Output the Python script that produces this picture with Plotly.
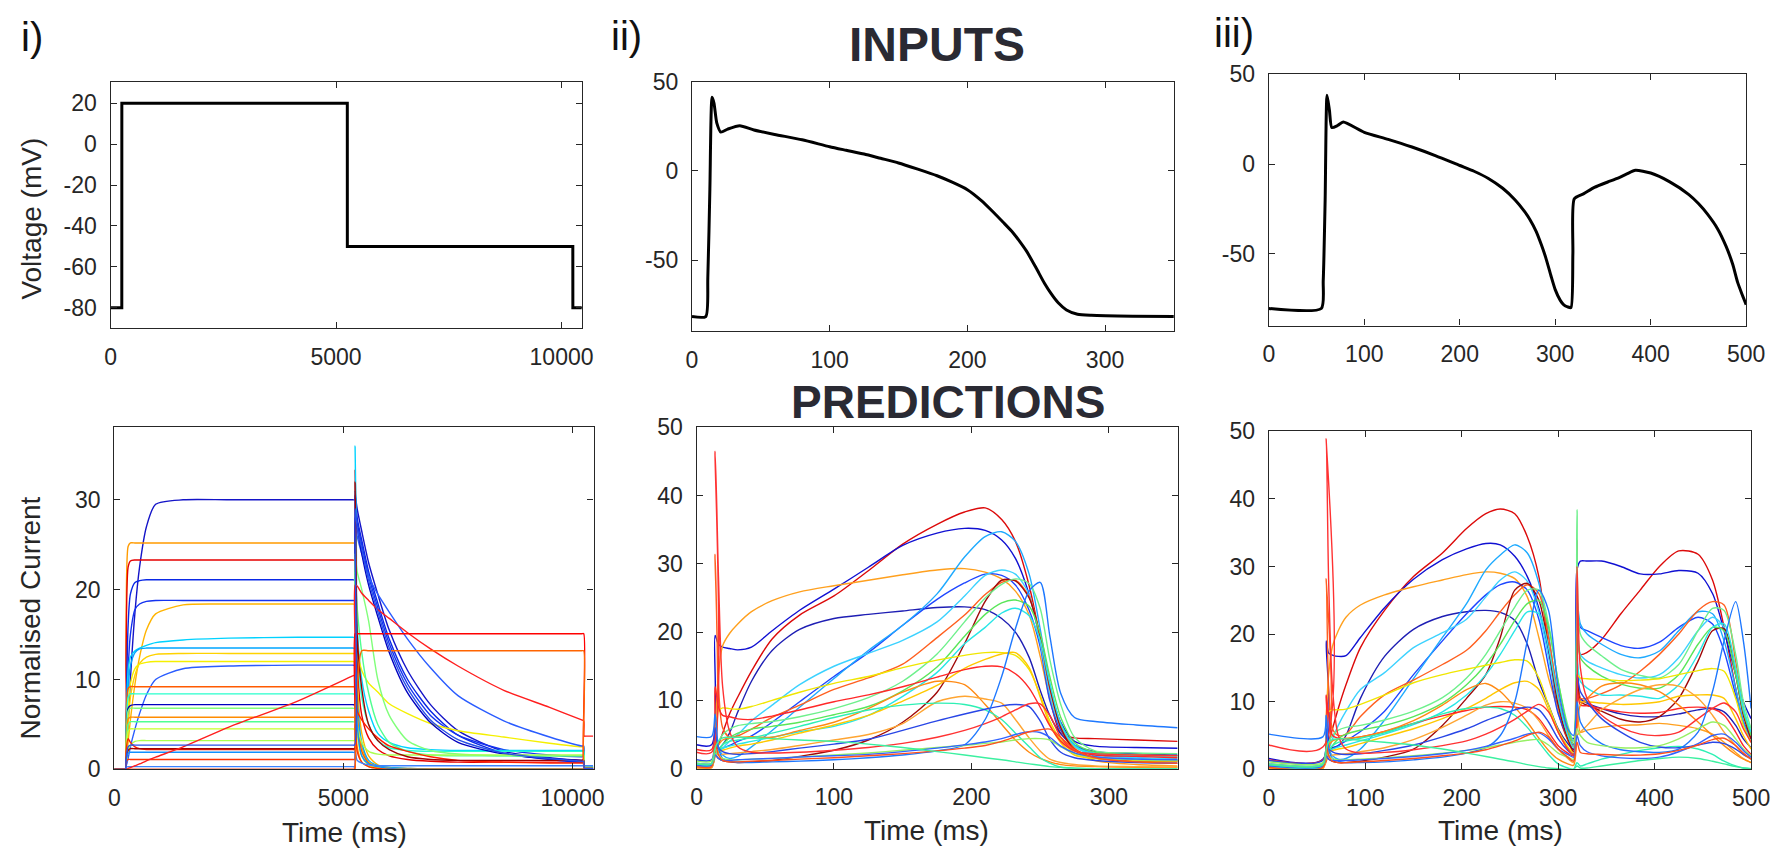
import plotly.graph_objects as go

W, H = 1790, 857

# ---------------- INPUT PROTOCOLS (voltage, mV) ----------------
V1_T = [0, 250, 251, 5250, 5251, 10250, 10251, 10450]
V1 = [-80, -80, 20, 20, -50, -50, -80, -80]

V2_T = [0, 10, 11.5, 13, 14.6, 16, 18, 21, 26, 34.7, 45, 60, 80, 100, 112, 125, 137, 150, 164,
        178, 189, 200, 210, 219.5, 226, 233, 238, 243, 250, 256, 261, 266, 272, 280, 290, 320, 350]
V2 = [-81.7, -81.7, -60, -10, 41.4, 38, 27, 21.8, 23.5, 25.4, 23, 20.5, 17.5, 13.6, 11.6, 9.5,
      7.1, 4.5, 1.0, -2.7, -6.3, -10.5, -16.5, -23.6, -28.8, -34.5, -39.5, -45, -54.5, -63,
      -69, -74, -78, -80.4, -81, -81.5, -81.7]

V3_T = [0, 55, 57, 59, 61, 63.5, 66, 72, 78, 100, 125, 150, 175, 200, 215, 230, 245, 258, 268,
        273.6, 280, 285.5, 290, 295.4, 300, 305.3, 309, 313, 316.5, 318.5, 320, 330, 341, 355,
        365, 375, 384, 400, 420, 440, 450, 459.5, 470, 479, 486, 491, 496, 500]
V3 = [-80.5, -80.5, -65, -20, 38.4, 30, 20.4, 21.5, 23.4, 17.7, 13.8, 9.5, 4.6, -0.8, -4, -8,
      -13.5, -20, -26.5, -31, -37.5, -45, -52, -62, -70, -76, -78.5, -79.6, -80, -50, -19.3,
      -16.5, -13, -10, -8, -5.5, -3.5, -5, -9.9, -17, -22, -27.9, -36, -45.9, -56, -65.8, -73, -78.4]

# ---------------- PREDICTIONS panel i (normalised current) ----------------
P1_T = [0, 200, 245, 255, 300, 350, 450, 550, 700, 900, 1500, 2500, 4000, 5200, 5245, 5255,
        5300, 5400, 5550, 5750, 6000, 6400, 6900, 7500, 8500, 9500, 10200, 10245, 10255, 10300, 10450]
P1_COLORS = ["#1414c8", "#ff9b00", "#e60000", "#0a28e6", "#1432f0", "#ffb400", "#00d2ff",
             "#00a5ff", "#ffd200", "#f5f000", "#2a5cff", "#ff5a00", "#28ffcd", "#0000c0",
             "#80ff7a", "#ff8c00", "#50ff90", "#c8ff28", "#aaff50", "#ff1e00", "#a00000",
             "#1090ff", "#ff3200", "#3c82ff", "#ff1e1e", "#ff0000", "#ff6400", "#2850e6"]
P1_SERIES = [
    [0, 0, 0, 0.5, 5, 10, 17.5, 22.5, 27, 29.5, 30, 30, 30, 30, 30,
     30.5, 29, 26.5, 23, 19.5, 15.5, 11, 7.2, 4.3, 2.0, 1.3, 1.0, 1.0, 0.2, 0.2, 0.1],
    [0, 0, 0, 14, 24.8, 25.2, 25.2, 25.2, 25.2, 25.2, 25.2, 25.2, 25.2, 25.2, 25.2,
     27, 9, 2.5, 0.8, 0.3, 0.1, 0, 0, 0, 0, 0, 0, 0, 0, 0, 0],
    [0, 0, 0, 12, 22.5, 23.2, 23.3, 23.3, 23.3, 23.3, 23.3, 23.3, 23.3, 23.3, 23.3,
     33.3, 12, 6, 3.5, 2.2, 1.5, 1.1, 0.9, 0.8, 0.8, 0.8, 0.8, 0.8, 0.1, 0.1, 0.1],
    [0, 0, 0, 5, 16, 19.5, 20.8, 21.0, 21.1, 21.1, 21.1, 21.1, 21.1, 21.1, 21.1,
     31, 28, 25.5, 22, 18.5, 14.5, 10, 6.5, 3.8, 1.8, 1.1, 0.8, 0.8, 0.1, 0.1, 0.1],
    [0, 0, 0, 3, 11, 15, 17.8, 18.4, 18.7, 18.8, 18.8, 18.8, 18.8, 18.8, 18.8,
     30, 27.5, 25, 21.5, 18, 14, 9.5, 6, 3.8, 2.2, 1.6, 1.4, 1.4, 0.2, 0.2, 0.1],
    [0, 0, 0, 0.5, 3, 5.5, 9.5, 12.5, 15.5, 17.3, 18.3, 18.4, 18.4, 18.4, 18.4,
     20, 10, 4, 1.5, 0.5, 0.2, 0.1, 0, 0, 0, 0, 0, 0, 0, 0, 0],
    [0, 0, 0, 4, 11, 12.5, 13.2, 13.5, 13.8, 14.1, 14.4, 14.6, 14.7, 14.7, 14.7,
     36, 16, 10, 6.5, 4, 3, 2.4, 2.2, 2.1, 2.1, 2.1, 2.1, 2.1, 0.3, 0.3, 0.2],
    [0, 0, 0, 3, 9, 11.5, 13, 13.4, 13.5, 13.5, 13.5, 13.5, 13.5, 13.5, 13.5,
     25, 8, 3, 1, 0.4, 0.2, 0.1, 0, 0, 0, 0, 0, 0, 0, 0, 0],
    [0, 0, 0, 1, 5, 8, 10.5, 11.8, 12.5, 12.8, 12.9, 12.9, 12.9, 12.9, 12.9,
     22, 6, 2, 0.8, 0.3, 0.1, 0, 0, 0, 0, 0, 0, 0, 0, 0, 0],
    [0, 0, 0, 2, 7, 9.5, 11.2, 11.7, 11.9, 12, 12, 12, 12, 12, 12,
     25, 14, 11, 9.6, 8.6, 7.3, 6.2, 5.1, 4.3, 3.6, 2.9, 2.5, 2.5, 0.3, 0.3, 0.2],
    [0, 0, 0, 0.3, 1.2, 2.5, 4.5, 6.2, 8.3, 10, 11.2, 11.5, 11.6, 11.6, 11.6,
     28, 26, 24, 21.5, 19.5, 17.5, 14.5, 11.3, 8.2, 5.4, 3.6, 2.6, 2.6, 0.3, 0.3, 0.3],
    [0, 0, 0, 6, 9, 9.2, 9.2, 9.2, 9.2, 9.2, 9.2, 9.2, 9.2, 9.2, 9.2,
     15, 6, 2, 0.7, 0.3, 0.1, 0, 0, 0, 0, 0, 0, 0, 0, 0, 0],
    [0, 0, 0, 4, 8, 8.4, 8.4, 8.4, 8.4, 8.4, 8.4, 8.4, 8.4, 8.4, 8.4,
     20, 14, 8, 5, 3.2, 2.4, 2.1, 2.0, 2.0, 2.0, 2.0, 2.0, 2.0, 0.3, 0.3, 0.2],
    [0, 0, 0, 3, 6.8, 7.1, 7.2, 7.2, 7.2, 7.2, 7.2, 7.2, 7.2, 7.2, 7.2,
     28, 27, 24, 20.5, 17, 13, 8.5, 5.2, 3.0, 1.7, 1.2, 1.0, 1.0, 0.2, 0.2, 0.1],
    [0, 0, 0, 3, 6.5, 6.8, 6.8, 6.8, 6.8, 6.8, 6.8, 6.8, 6.8, 6.8, 6.8,
     24, 22, 20, 16.5, 10, 6, 3.2, 2.1, 1.7, 1.5, 1.5, 1.5, 1.5, 0.3, 0.3, 0.2],
    [0, 0, 0, 3, 5.6, 5.8, 5.8, 5.8, 5.8, 5.8, 5.8, 5.8, 5.8, 5.8, 5.8,
     6, 2.5, 0.8, 0.3, 0.1, 0, 0, 0, 0, 0, 0, 0, 0, 0, 0, 0],
    [0, 0, 0, 2, 5, 5.3, 5.3, 5.3, 5.3, 5.3, 5.3, 5.3, 5.3, 5.3, 5.3,
     22, 18, 13, 8.5, 5, 3, 2, 1.6, 1.5, 1.5, 1.5, 1.5, 1.5, 0.2, 0.2, 0.2],
    [0, 0, 0, 2, 4.2, 4.5, 4.5, 4.5, 4.5, 4.5, 4.5, 4.5, 4.5, 4.5, 4.5,
     10, 4, 1.5, 0.5, 0.2, 0.1, 0, 0, 0, 0, 0, 0, 0, 0, 0, 0],
    [0, 0, 0, 0.5, 2, 2.7, 3.1, 3.2, 3.2, 3.2, 3.2, 3.2, 3.2, 3.2, 3.2,
     8, 5, 3, 2, 1.7, 1.6, 1.6, 1.6, 1.6, 1.6, 1.6, 1.6, 1.6, 0.2, 0.2, 0.2],
    [0, 0, 0, 2, 3.4, 3.0, 2.5, 2.3, 2.2, 2.2, 2.2, 2.2, 2.2, 2.2, 2.2,
     12, 6.5, 5.5, 4.5, 3.5, 2.6, 2.0, 1.4, 1.0, 0.8, 0.7, 0.7, 0.7, 0.1, 0.1, 0.1],
    [0, 0, 0, 1, 2.1, 2.3, 2.3, 2.3, 2.3, 2.3, 2.3, 2.3, 2.3, 2.3, 2.3,
     32, 15, 9, 5, 3.2, 2.2, 1.4, 1.1, 1.0, 1.0, 1.0, 1.0, 1.0, 0.1, 0.1, 0.1],
    [0, 0, 0, 1, 1.8, 1.9, 1.9, 1.9, 1.9, 1.9, 1.9, 1.9, 1.9, 1.9, 1.9,
     20, 5, 1.5, 0.6, 0.3, 0.1, 0, 0, 0, 0, 0, 0, 0, 0, 0, 0],
    [0, 0, 0, 0.8, 1.1, 1.1, 1.1, 1.1, 1.1, 1.1, 1.1, 1.1, 1.1, 1.1, 1.1,
     5, 2, 0.8, 0.3, 0.1, 0, 0, 0, 0, 0, 0, 0, 0, 0, 0, 0],
    [0, 0, 0, 0.2, 0.3, 0.3, 0.3, 0.3, 0.3, 0.3, 0.3, 0.3, 0.3, 0.3, 0.3,
     2, 1, 0.7, 0.5, 0.4, 0.4, 0.4, 0.4, 0.4, 0.4, 0.4, 0.4, 0.4, 0.4, 0.4, 0.4],
    [0, 0, 0, 0, 0.1, 0.2, 0.4, 0.6, 0.95, 1.35, 2.5, 4.7, 7.6, 10.4, 10.5,
     20.5, 20.4, 19.6, 18.8, 17.8, 16.8, 15.2, 13.4, 11.5, 8.8, 6.9, 5.5, 5.4, 3.7, 3.7, 3.7],
    [0, 0, 0, 0, 0, 0, 0, 0, 0, 0, 0, 0, 0, 0, 0,
     15.1, 15.1, 15.1, 15.1, 15.1, 15.1, 15.1, 15.1, 15.1, 15.1, 15.1, 15.1, 15.1, 0, 0, 0],
    [0, 0, 0, 0, 0, 0, 0, 0, 0, 0, 0, 0, 0, 0, 0,
     6, 9, 13.2, 13.2, 13.2, 13.2, 13.2, 13.2, 13.2, 13.2, 13.2, 13.2, 13.2, 0, 0, 0],
    [0, 0, 0, 1, 2.5, 2.7, 2.7, 2.7, 2.7, 2.7, 2.7, 2.7, 2.7, 2.7, 2.7,
     29, 27, 24.5, 21, 17.5, 13.5, 9, 5.5, 3.3, 1.8, 1.2, 0.9, 0.9, 0.1, 0.1, 0.1],
]

# ---------------- PREDICTIONS panels ii and iii (same 25 models) ----------------
MODEL_COLORS = ["#dc0a0a", "#1010d2", "#ffa01e", "#1e1eb4", "#1e46ff", "#1eaaff", "#3cd2ff",
                "#ff5f1f", "#a00a0a", "#6ef08c", "#5ae65a", "#28e6e6", "#f0e600", "#ffc800",
                "#ff2828", "#ff8a14", "#ffa532", "#2ef0b4", "#2846e6", "#ff3232", "#1e78ff",
                "#96f064", "#3264ff", "#ff501e", "#3cf0a0"]

P2_T = [0, 11, 13.5, 16, 19, 24, 30, 40, 55, 75, 100, 125, 150, 175, 195, 210, 222, 232, 242,
        250, 257, 265, 275, 290, 320, 350]
P2_SERIES = [
    [0.4, 0.4, 2, 3.5, 5.2, 8.0, 10.5, 14.3, 19.0, 22.5, 25.3, 29.0, 32.9, 35.8, 37.6, 38.2, 36.5, 33.3, 26.8, 19.0, 10.5, 5.2, 4.5, 4.4, 4.2, 4.0],
    [3.5, 3.5, 19.5, 18.2, 17.8, 17.6, 17.4, 17.8, 20.2, 23.2, 26.3, 29.5, 32.7, 34.5, 35.2, 34.9, 33.5, 30.8, 25.5, 18.8, 11.8, 6.8, 4.0, 3.3, 3.1, 3.0],
    [0.3, 0.3, 6, 14, 18, 19.8, 21.2, 23.0, 24.6, 25.9, 26.8, 27.6, 28.4, 29.1, 29.3, 28.8, 27.8, 26.0, 22.5, 16.5, 10.2, 5.6, 2.7, 1.2, 0.6, 0.4],
    [0.5, 0.5, 4, 3, 3.5, 5.2, 8.3, 12.8, 17.3, 20.4, 22.0, 22.6, 23.1, 23.6, 23.7, 23.3, 22.0, 20.0, 16.3, 11.5, 7.8, 5.1, 3.4, 2.5, 2.2, 2.0],
    [0.8, 0.8, 3, 2.5, 3.0, 3.4, 4.0, 4.8, 6.8, 9.8, 13.5, 17.0, 21.0, 24.8, 27.2, 28.5, 28.3, 26.9, 23.2, 17.9, 10.0, 5.6, 3.4, 2.2, 1.6, 1.3],
    [0.5, 0.5, 4, 3, 2, 1.5, 1.8, 3.2, 5.6, 9.0, 13.2, 17.3, 21.0, 25.6, 31.0, 34.0, 34.7, 33.3, 28.5, 20.5, 12.5, 6.5, 3.5, 1.8, 1.4, 1.2],
    [0.6, 0.6, 3, 2.5, 3.0, 4.0, 5.0, 7.0, 9.3, 12.3, 15.0, 16.9, 18.8, 21.5, 25.3, 28.3, 29.1, 28.5, 25.5, 18.5, 11.0, 6.0, 3.2, 2.0, 1.6, 1.5],
    [0.2, 0.2, 31.4, 12, 6, 4.6, 4.8, 5.8, 7.5, 9.3, 11.6, 13.3, 15.3, 19.2, 22.5, 25.5, 27.3, 27.6, 25.2, 19.0, 11.8, 6.3, 3.0, 1.6, 1.1, 1.0],
    [0.3, 0.3, 2, 1.5, 1.2, 1.0, 0.9, 1.0, 1.2, 1.8, 2.7, 4.2, 6.8, 11.2, 18.3, 24.5, 27.6, 27.5, 25.0, 19.5, 12.0, 6.0, 2.8, 1.6, 1.2, 1.1],
    [0.8, 0.8, 3, 4, 5, 5.8, 6.3, 6.6, 6.9, 7.6, 8.8, 10.4, 12.8, 16.8, 21.5, 25.0, 27.0, 27.8, 27.1, 23.5, 16.0, 9.4, 4.6, 2.6, 2.3, 2.2],
    [0.6, 0.6, 2, 2.5, 3.5, 4.5, 5.2, 5.8, 6.2, 6.8, 7.9, 9.1, 11.4, 14.9, 19.4, 22.6, 24.3, 24.7, 23.8, 19.8, 13.5, 7.5, 3.8, 2.4, 2.0, 1.9],
    [0.5, 0.5, 2, 2.5, 3, 3.3, 3.6, 4.0, 4.6, 5.4, 6.2, 7.8, 10.6, 14.1, 18.3, 20.7, 22.8, 23.5, 22.4, 18.8, 12.5, 6.6, 3.3, 2.2, 1.9, 1.7],
    [0.3, 0.3, 5, 8.5, 8.9, 8.8, 8.7, 9.1, 10.0, 11.2, 12.5, 13.5, 14.8, 15.9, 16.6, 17.0, 17.0, 16.6, 14.5, 10.8, 7.0, 4.2, 2.3, 1.5, 1.3, 1.2],
    [0.2, 0.2, 2, 2.5, 2.7, 3.0, 3.3, 3.6, 4.2, 5.2, 6.4, 7.8, 9.9, 12.2, 14.7, 16.0, 16.8, 17.0, 14.8, 10.5, 6.5, 3.8, 2.0, 1.5, 1.2, 1.1],
    [2.8, 2.8, 12, 9, 7.8, 7.6, 7.3, 7.2, 7.7, 8.6, 9.8, 10.8, 12.0, 13.4, 14.5, 15.0, 14.9, 13.9, 11.8, 9.0, 6.3, 4.0, 2.6, 2.0, 1.8, 1.6],
    [0.2, 0.2, 3, 3.5, 4.2, 4.5, 4.6, 4.7, 4.6, 5.6, 6.8, 8.8, 11.2, 12.8, 12.3, 9.4, 6.5, 4.2, 2.4, 1.5, 1.0, 0.6, 0.4, 0.3, 0.2, 0.2],
    [0.1, 0.1, 2, 2, 2.1, 2.2, 2.3, 2.5, 2.8, 3.4, 4.2, 5.0, 6.6, 9.8, 10.6, 10.2, 9.6, 7.2, 4.5, 2.6, 1.4, 0.9, 0.6, 0.4, 0.3, 0.2],
    [0.4, 0.4, 2, 2.8, 3.5, 4.0, 4.2, 4.5, 5.2, 6.2, 7.5, 8.6, 9.3, 9.6, 9.4, 8.6, 7.2, 5.2, 3.2, 1.6, 0.8, 0.2, 0.0, 0.0, 0.0, 0.0],
    [1.3, 1.3, 6, 3, 2.5, 2.2, 2.1, 2.2, 2.5, 3.0, 3.6, 4.3, 5.6, 7.0, 8.0, 8.7, 9.2, 9.4, 9.1, 7.0, 4.3, 2.4, 1.6, 1.2, 0.9, 0.8],
    [2.4, 2.4, 46.5, 28, 12, 5.5, 3.2, 2.4, 2.3, 2.4, 2.7, 3.1, 3.7, 4.6, 5.6, 6.6, 7.6, 8.6, 9.5, 9.5, 7.8, 4.6, 2.6, 2.2, 2.0, 1.9],
    [4.7, 4.7, 8, 3, 1.5, 1.1, 0.9, 0.9, 1.0, 1.1, 1.3, 1.6, 2.0, 2.6, 3.5, 7.2, 13.5, 20.5, 26.0, 27.3, 19.5, 11.0, 7.5, 6.9, 6.4, 6.0],
    [1.1, 1.1, 3, 2, 1.5, 1.3, 1.3, 1.4, 1.5, 1.7, 2.0, 2.3, 2.7, 3.1, 3.4, 3.7, 3.9, 4.2, 4.4, 4.4, 4.2, 3.2, 2.2, 1.6, 1.3, 1.2],
    [0.5, 0.5, 2, 1.5, 1.2, 1.2, 1.3, 1.4, 1.5, 1.7, 1.9, 2.1, 2.5, 3.0, 3.5, 3.9, 4.4, 5.0, 5.4, 5.3, 4.6, 3.3, 2.3, 1.7, 1.4, 1.3],
    [0.3, 0.3, 4, 2, 1.2, 1.0, 1.0, 1.1, 1.2, 1.4, 1.6, 1.9, 2.2, 2.6, 3.0, 3.4, 4.0, 4.7, 5.4, 5.7, 5.8, 4.6, 2.8, 1.6, 1.0, 0.8],
    [0.7, 0.7, 3, 4, 4.5, 4.6, 4.6, 4.5, 4.4, 4.2, 4.0, 3.6, 3.1, 2.5, 2.0, 1.6, 1.3, 1.0, 0.7, 0.5, 0.3, 0.2, 0.1, 0.0, 0.0, 0.0],
]

P3_T = [0, 56, 59.5, 62, 66, 72, 80, 95, 120, 150, 180, 205, 225, 240, 255, 268, 280, 290, 300,
        310, 316, 319.5, 323, 330, 345, 365, 385, 405, 425, 445, 460, 472, 484, 492, 500]
P3_SERIES = [
    [0.5, 0.5, 3, 4, 6, 9, 12.5, 18, 23.5, 28.5, 32, 35.6, 37.8, 38.5, 37.8, 34.4, 28.5, 18, 8.6, 4.3, 2.9, 33.9, 17, 17.3, 19.2, 23.0, 26.5, 30.0, 32.3, 31.8, 28, 21, 12, 7, 5],
    [1.6, 1.5, 19, 17.2, 16.9, 16.7, 16.8, 19.5, 23.9, 28.1, 31.0, 32.6, 33.4, 33.2, 31.5, 28.5, 23.8, 17.5, 10, 5.6, 4.5, 29.5, 30.8, 30.8, 30.8, 30.0, 28.9, 28.9, 29.4, 29.0, 26.0, 20.5, 14, 10, 7.5],
    [0.3, 0.3, 8, 14, 18.2, 20.5, 22.5, 24.3, 25.8, 27.0, 28.0, 28.8, 29.2, 29.0, 28.2, 25.5, 19.5, 13.5, 8.8, 4.4, 2.2, 12, 5.5, 5.8, 6.2, 6.5, 6.6, 6.8, 6.5, 6.0, 5.2, 4.0, 2.5, 1.6, 1.0],
    [0.5, 0.5, 4, 3, 3.2, 3.5, 5, 10.5, 16.7, 20.7, 22.6, 23.3, 23.5, 23.2, 22, 18.5, 13.0, 9.5, 6.0, 3.8, 3.0, 18, 10.5, 9.8, 9.0, 8.2, 7.8, 7.8, 8.2, 8.8, 9.0, 8.5, 6.5, 4.5, 3.2],
    [0.8, 0.8, 3, 2.5, 3.0, 3.5, 4.2, 5.6, 8.6, 14.0, 19.0, 23.0, 25.8, 27.3, 27.7, 26.5, 22.2, 15.2, 8.2, 4.8, 3.6, 24, 21, 20.5, 19.5, 18.3, 17.9, 18.8, 21.0, 22.5, 21.5, 17.5, 11, 7, 4.5],
    [0.6, 0.6, 4, 3, 2, 1.5, 1.6, 3.0, 7.3, 13.4, 19.5, 24.5, 29.5, 31.7, 33.2, 32.0, 27.5, 20, 10.5, 5.5, 4.2, 25, 21.5, 20.0, 18.5, 17.0, 16.5, 17.5, 20.5, 23.3, 23.0, 19, 12, 7, 4],
    [0.6, 0.6, 3, 3, 4.5, 6.5, 8.6, 11.8, 14.3, 18.0, 20.2, 22.2, 25.5, 28.0, 29.2, 27.8, 23.3, 16.5, 9.5, 4.8, 3.3, 22, 17, 16, 15, 14, 13.5, 14, 16.5, 20.5, 22.5, 21, 14, 8, 5],
    [0.2, 0.2, 28.2, 12, 6, 5.0, 5.2, 7.8, 11.0, 13.2, 15.5, 17.6, 20.5, 23.3, 25.8, 27.3, 26.0, 19.5, 11.0, 5.5, 3.2, 15, 10.5, 10.5, 11.2, 12.5, 14.5, 17.0, 20.0, 23.5, 24.8, 24.3, 16, 9, 5],
    [0.3, 0.3, 2, 1.5, 1.2, 1.0, 1.0, 1.2, 1.8, 3.0, 6.5, 10.5, 14, 19.5, 26.5, 27.5, 25.0, 18.0, 9.5, 4.5, 2.6, 14, 10.0, 9.5, 8.6, 7.4, 7.0, 7.8, 10.5, 16.0, 20.5, 20.8, 14, 8, 4.5],
    [0.8, 0.8, 3, 4, 5, 5.8, 6.2, 6.5, 7.3, 8.6, 10.6, 13.5, 17.0, 20.5, 24.0, 26.5, 26.5, 21.5, 13, 6.5, 4.2, 38.4, 20.0, 18.5, 16.8, 14.8, 13.9, 13.5, 15.5, 20.5, 23.8, 23.5, 17, 10, 6],
    [0.6, 0.6, 2, 2.5, 3.5, 4.5, 5.2, 5.8, 6.5, 7.8, 9.8, 12.5, 15.5, 18.5, 22.0, 24.5, 25.0, 21.0, 13.0, 6.0, 3.8, 20, 16.5, 15.3, 13.8, 12.6, 12.0, 12.0, 14.0, 18.5, 21.0, 20.5, 14, 8.5, 5],
    [0.5, 0.5, 2, 2.5, 3, 3.3, 3.6, 4.2, 5.2, 6.6, 8.5, 11.0, 14.0, 17.0, 20.5, 23.3, 23.0, 18.0, 10.5, 5.0, 3.2, 16, 13.0, 12.0, 11.0, 11.0, 10.8, 10.5, 12.5, 17.0, 21.0, 21.5, 15, 9, 5.5],
    [0.3, 0.3, 5, 8.5, 8.8, 8.8, 8.9, 9.6, 11.0, 12.8, 14.0, 14.8, 15.4, 15.8, 16.2, 16.0, 13.5, 9.5, 5.8, 3.3, 2.3, 14, 13.5, 13.4, 13.3, 13.1, 13.2, 13.4, 14.0, 14.6, 14.9, 14.5, 10.5, 6.5, 4],
    [0.2, 0.2, 2, 2.5, 2.8, 3.0, 3.2, 3.8, 4.8, 6.0, 7.5, 9.0, 10.5, 11.8, 12.8, 13.0, 11.8, 8.8, 5.5, 3.0, 2.0, 11, 10.0, 10.0, 9.8, 9.6, 9.7, 10.0, 10.8, 11.0, 11.0, 10.5, 7.5, 5, 3],
    [1.4, 1.4, 11, 8, 5.0, 4.6, 4.5, 4.8, 5.6, 6.8, 7.9, 8.7, 9.2, 9.3, 9.2, 8.8, 7.5, 5.5, 3.5, 2.4, 2.0, 12, 9.5, 9.4, 9.0, 8.5, 8.3, 8.4, 9.0, 9.2, 9.0, 8.0, 5.5, 3.5, 2.2],
    [0.2, 0.2, 3, 3.5, 4.2, 4.5, 4.6, 4.8, 5.6, 7.2, 9.5, 11.8, 12.7, 11.5, 9.2, 7.0, 4.6, 2.8, 1.5, 0.8, 0.6, 6, 9.5, 10.5, 12.3, 12.8, 12.5, 11.5, 9.5, 7.0, 5.0, 3.5, 2.2, 1.5, 1.0],
    [0.1, 0.1, 2, 2, 2.1, 2.2, 2.3, 2.6, 3.2, 4.4, 6.2, 8.0, 9.5, 10.0, 9.8, 9.0, 7.2, 5.0, 3.0, 1.6, 1.0, 5, 5.5, 6.5, 8.8, 10.5, 11.8, 12.5, 12.3, 10.5, 8.0, 5.5, 3.5, 2.2, 1.5],
    [0.4, 0.4, 2, 2.8, 3.5, 4.0, 4.2, 4.6, 5.4, 6.8, 8.2, 9.0, 9.2, 9.0, 8.0, 6.2, 4.0, 2.2, 0.8, 0.2, 0.0, 1, 0.5, 0.8, 1.5, 2.2, 2.8, 3.2, 3.4, 3.0, 2.2, 1.2, 0.5, 0.2, 0.1],
    [1.3, 1.3, 6, 3, 2.6, 2.3, 2.2, 2.3, 2.8, 3.6, 4.8, 6.0, 7.2, 8.0, 8.8, 9.2, 8.8, 7.0, 4.5, 2.8, 2.2, 14, 11.5, 10.0, 7.5, 5.5, 4.0, 3.3, 3.2, 3.6, 4.0, 3.8, 3.0, 2.2, 1.6],
    [3.6, 3.3, 48.9, 28, 12, 5.0, 3.0, 2.4, 2.5, 2.9, 3.5, 4.2, 5.2, 6.2, 7.4, 8.6, 9.6, 8.5, 5.5, 3.0, 2.2, 30, 15, 10.5, 8.0, 6.2, 5.2, 5.0, 5.5, 7.5, 9.0, 9.8, 8.5, 6.0, 4.0],
    [5.2, 4.8, 8, 3, 1.6, 1.2, 1.0, 1.0, 1.1, 1.4, 1.8, 2.4, 3.2, 5.0, 10.0, 19.0, 26.5, 23.5, 12.0, 6.0, 5.0, 10, 7.0, 5.5, 3.8, 2.9, 2.6, 2.5, 3.0, 5.5, 11.5, 19, 24.8, 19, 9],
    [1.1, 1.0, 3, 2, 1.6, 1.4, 1.4, 1.5, 1.7, 2.0, 2.4, 2.8, 3.2, 3.6, 4.0, 4.3, 4.4, 3.6, 2.4, 1.8, 1.5, 6, 5.0, 4.0, 3.5, 3.2, 3.2, 3.5, 4.5, 6.0, 7.0, 6.5, 4.5, 3.0, 2.0],
    [0.5, 0.5, 2, 1.5, 1.3, 1.3, 1.3, 1.4, 1.6, 1.9, 2.3, 2.8, 3.4, 4.0, 4.6, 5.2, 5.4, 4.5, 3.0, 2.2, 1.8, 5, 3.5, 2.6, 2.0, 1.7, 1.6, 1.8, 2.6, 3.8, 5.0, 5.2, 4.0, 2.8, 1.8],
    [0.3, 0.3, 4, 2, 1.2, 1.0, 1.0, 1.1, 1.3, 1.6, 2.0, 2.4, 2.9, 3.5, 4.2, 5.0, 5.5, 4.8, 3.0, 1.8, 1.2, 4, 2.5, 2.3, 2.2, 2.1, 2.1, 2.3, 2.8, 3.6, 4.4, 4.6, 3.5, 2.4, 1.5],
    [0.7, 0.7, 3, 4, 4.4, 4.5, 4.5, 4.3, 4.0, 3.6, 3.0, 2.4, 1.9, 1.5, 1.1, 0.7, 0.4, 0.2, 0.1, 0.0, 0.0, 0.5, 0.2, 0.2, 0.5, 0.9, 1.3, 1.6, 1.8, 1.6, 1.2, 0.8, 0.4, 0.2, 0.1],
]

# ---------------- sanity checks on shapes ----------------
assert len(V2) == len(V2_T) and len(V3) == len(V3_T)
for s in P1_SERIES:
    assert len(s) == len(P1_T), ("P1", len(s))
for s in P2_SERIES:
    assert len(s) == len(P2_T), ("P2", len(s))
for s in P3_SERIES:
    assert len(s) == len(P3_T), ("P3", len(s))

# ---------------- figure ----------------
FONT = "Liberation Sans, Arial, Helvetica, sans-serif"
INK = "#262626"

fig = go.Figure()


def ax_names(i):
    return ("x" if i == 1 else "x%d" % i), ("y" if i == 1 else "y%d" % i)


def add_lines(i, t, series, colors, width, shape="linear", smoothing=1.0):
    xa, ya = ax_names(i)
    for ys, c in zip(series, colors):
        line = dict(color=c, width=width, shape=shape)
        if shape == "spline":
            line["smoothing"] = smoothing
        fig.add_trace(go.Scatter(x=t, y=ys, mode="lines", line=line,
                                 xaxis=xa, yaxis=ya, showlegend=False, hoverinfo="skip"))


add_lines(1, V1_T, [V1], ["#000000"], 3)
add_lines(2, V2_T, [V2], ["#000000"], 3, "spline", 0.6)
add_lines(3, V3_T, [V3], ["#000000"], 3, "spline", 0.6)
add_lines(4, P1_T, P1_SERIES, P1_COLORS, 1.4, "spline", 0.7)
add_lines(5, P2_T, P2_SERIES, MODEL_COLORS, 1.4, "spline", 0.8)
add_lines(6, P3_T, P3_SERIES, MODEL_COLORS, 1.4, "spline", 0.8)

# panel geometry in pixels: (x_left, x_right), (y_top, y_bottom)
PANELS = {
    1: ((106, 584), (71, 325), [0, 10450], [-90, 30.5], [0, 5000, 10000], [-80, -60, -40, -20, 0, 20]),
    2: ((695.7, 1184.4), (71, 328.3), [0, 350], [-90, 50], [0, 100, 200, 300], [-50, 0, 50]),
    3: ((1280.7, 1764.8), (63.3, 322.3), [0, 500], [-90, 50], [0, 100, 200, 300, 400, 500], [-50, 0, 50]),
    4: ((109.9, 595.9), (427, 780), [0, 10460], [0, 38.1], [0, 5000, 10000], [0, 10, 20, 30]),
    5: ((700.3, 1188.2), (427.3, 779.3), [0, 350], [0, 50], [0, 100, 200, 300], [0, 10, 20, 30, 40, 50]),
    6: ((1280.7, 1769.8), (431.3, 780), [0, 500], [0, 50], [0, 100, 200, 300, 400, 500], [0, 10, 20, 30, 40, 50]),
}

common = dict(showline=True, linecolor=INK, linewidth=1.2, mirror="ticks", ticks="inside",
              ticklen=6, tickwidth=1.2, tickcolor=INK, showgrid=False, zeroline=False,
              tickfont=dict(family=FONT, size=23, color=INK), ticklabelstandoff=8,
              fixedrange=True)

layout_axes = {}
for i, (xp, yp, xr, yr, xt, yt) in PANELS.items():
    xa, ya = ax_names(i)
    xkey = "xaxis" if i == 1 else "xaxis%d" % i
    ykey = "yaxis" if i == 1 else "yaxis%d" % i
    layout_axes[xkey] = dict(common, domain=[xp[0] / W, xp[1] / W], range=xr, tickvals=xt,
                             ticktext=[str(v) for v in xt], anchor=ya)
    layout_axes[ykey] = dict(common, domain=[1 - yp[1] / H, 1 - yp[0] / H], range=yr,
                             tickvals=yt, ticktext=[str(v) for v in yt], anchor=xa)


def ann(text, px, py, size, bold=False, angle=0, color=INK):
    return dict(text=("<b>%s</b>" % text) if bold else text, x=px / W, y=1 - py / H,
                xref="paper", yref="paper", xanchor="center", yanchor="middle",
                showarrow=False, textangle=angle,
                font=dict(family=FONT, size=size, color=color))


annotations = [
    ann("i)", 26, 25, 40, color="#111111"),
    ann("ii)", 629.7, 24, 40, color="#111111"),
    ann("iii)", 1245.5, 21, 40, color="#111111"),
    ann("INPUTS", 944, 32, 48, bold=True, color="#2a2a33"),
    ann("PREDICTIONS", 955, 401, 46, bold=True, color="#2a2a33"),
    ann("Voltage (mV)", 25.7, 211.7, 28, angle=-90),
    ann("Normalised Current", 24.7, 624, 28, angle=-90),
    ann("Time (ms)", 343, 845, 28),
    ann("Time (ms)", 934, 843, 28),
    ann("Time (ms)", 1516, 843, 28),
]

fig.update_layout(width=W, height=H, margin=dict(l=0, r=0, t=0, b=0),
                  paper_bgcolor="white", plot_bgcolor="white", showlegend=False,
                  annotations=annotations, **layout_axes)

fig.write_html("out.html", include_plotlyjs=True, config={"displayModeBar": False},
               post_script="document.body.style.margin='0';document.body.style.overflow='hidden';")
